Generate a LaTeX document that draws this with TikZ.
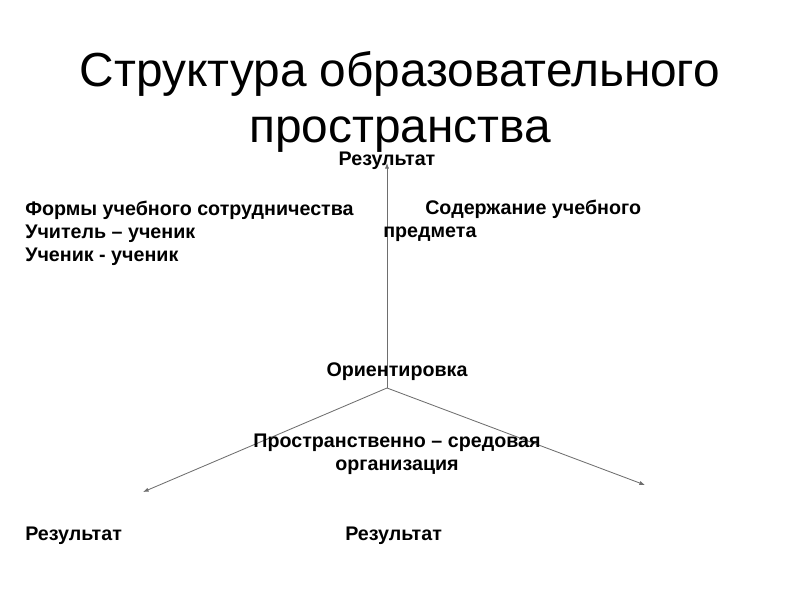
\documentclass[tikz,border=0pt]{standalone}
\usepackage{fontspec}
\setmainfont{Liberation Sans}
\usepackage{xcolor}
\definecolor{cLine}{HTML}{6E6E6E}
\usetikzlibrary{arrows.meta, positioning}
\tikzset{
  ttl/.style  = {align=center, inner sep=0pt,
                 font=\fontsize{34}{39.5}\selectfont},
  lbl/.style  = {inner sep=0pt, align=left,
                 font=\fontsize{14}{16.4}\selectfont\bfseries},
  clbl/.style = {lbl, align=center},
  arr/.style  = {-{Latex[length=4pt,width=3pt]}, draw=cLine, line width=0.6pt},
}

\begin{document}
\begin{tikzpicture}
  \useasboundingbox (0,0) rectangle (20,15);

  %% Title
  \node[ttl] (title) at (10,12.45)
        {Структура образовательного\\пространства};

  %% Axes
  \coordinate (o)  at (9.675,5.3);
  \coordinate (up) at (9.675,10.925);
  \coordinate (lf) at (3.575,2.7);
  \coordinate (rt) at (16.125,2.875);

  \draw[arr] (o) -- (up);
  \draw[arr] (o) -- (lf);
  \draw[arr] (o) -- (rt);

  %% Labels
  \node[clbl] (resT) at (9.675,10.97) {Результат};
  \node[lbl, anchor=west] (forms) at (0.625,9.17)
        {Формы учебного сотрудничества\\Учитель – ученик\\Ученик - ученик};
  \node[lbl, anchor=west] (subj) at (9.575,9.47)
        {\hspace*{1.05cm}Содержание учебного\\предмета};
  \node[clbl] (orient) at (9.925,5.72) {Ориентировка};
  \node[clbl] (space) at (9.925,3.65)
        {Пространственно – средовая\\организация};
  \node[lbl, anchor=west] (resL) at (0.625,1.6) {Результат};
  \node[lbl, anchor=west] (resR) at (8.625,1.6) {Результат};

\end{tikzpicture}
\end{document}
